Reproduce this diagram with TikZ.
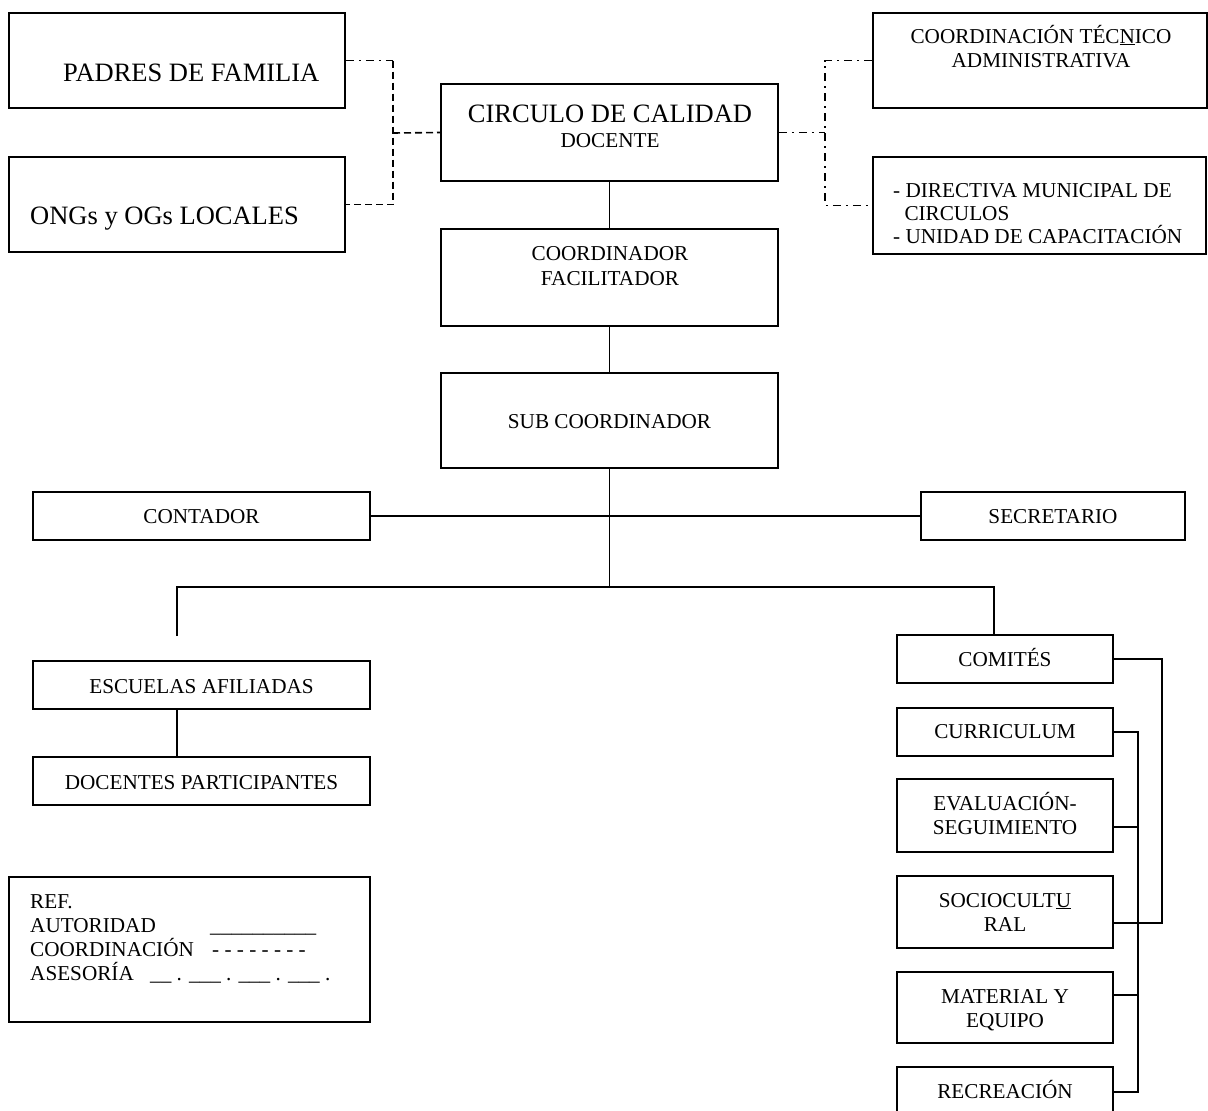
\documentclass[tikz,border=0pt]{standalone}
\usepackage{fontspec}
\setmainfont{Liberation Serif}
\newcommand\bigf{\fontsize{26.5}{30}\selectfont}
\newcommand\smf{\fontsize{21.2}{24}\selectfont}
\begin{document}
\begin{tikzpicture}[x=1pt,y=-1pt,
  box/.style={draw,line width=1.6pt,rectangle,inner sep=0pt},
  txt/.style={inner sep=0pt,anchor=base,font=\smf},
  txtl/.style={inner sep=0pt,anchor=base west,font=\smf},
  conn/.style={line width=1.6pt},
  dsh/.style={line width=1.6pt,dash pattern=on 7pt off 4pt},
  ddot/.style={line width=1.6pt,dash pattern=on 8pt off 5pt on 2pt off 5pt}]
\useasboundingbox (0,0) rectangle (1208,1111);
% boxes
\node[box,minimum width=336pt,minimum height=95pt] (padres) at (177,60.5) {};
\node[box,minimum width=336pt,minimum height=95pt] (ongs) at (177,204.5) {};
\node[box,minimum width=337pt,minimum height=97pt] (circ) at (609.5,132.5) {};
\node[box,minimum width=334pt,minimum height=95pt] (ctec) at (1040,60.5) {};
\node[box,minimum width=333pt,minimum height=97pt] (dir) at (1039.5,205.5) {};
\node[box,minimum width=337pt,minimum height=97pt] (cfac) at (609.5,277.5) {};
\node[box,minimum width=337pt,minimum height=95pt] (sub) at (609.5,420.5) {};
\node[box,minimum width=337pt,minimum height=48pt] (cont) at (201.5,516) {};
\node[box,minimum width=264pt,minimum height=48pt] (secr) at (1053,516) {};
\node[box,minimum width=337pt,minimum height=48pt] (esc) at (201.5,685) {};
\node[box,minimum width=337pt,minimum height=48pt] (doc) at (201.5,781) {};
\node[box,minimum width=361pt,minimum height=145pt] (leg) at (189.5,949.5) {};
\node[box,minimum width=216pt,minimum height=48pt] (com) at (1005,659) {};
\node[box,minimum width=216pt,minimum height=48pt] (cur) at (1005,732) {};
\node[box,minimum width=216pt,minimum height=73pt] (eva) at (1005,815.5) {};
\node[box,minimum width=216pt,minimum height=72pt] (soc) at (1005,912) {};
\node[box,minimum width=216pt,minimum height=71pt] (mat) at (1005,1007.5) {};
\node[box,minimum width=216pt,minimum height=72pt] (rec) at (1005,1103) {};
% texts
\node[txtl,font=\bigf] (t-padres) at (63,81) {PADRES DE FAMILIA};
\node[txtl,font=\bigf] (t-ongs) at (30,224) {ONGs y OGs LOCALES};
\node[txt,font=\bigf] (t-circ1) at (610,122) {CIRCULO DE CALIDAD};
\node[txt] (t-circ2) at (610,147) {DOCENTE};
\node[txt] (t-ctec1) at (1041,43) {COORDINACIÓN TÉC\underline{N}ICO};
\node[txt] (t-ctec2) at (1041,67) {ADMINISTRATIVA};
\node[txtl] (t-dir1) at (893,197) {- DIRECTIVA MUNICIPAL DE};
\node[txtl] (t-dir2) at (899,220) {\ CIRCULOS};
\node[txtl] (t-dir3) at (893,243) {- UNIDAD DE CAPACITACIÓN};
\node[txt] (t-cfac1) at (610,260) {COORDINADOR};
\node[txt] (t-cfac2) at (610,285) {FACILITADOR};
\node[txt] (t-sub) at (609.5,428) {SUB COORDINADOR};
\node[txt] (t-cont) at (201.5,523) {CONTADOR};
\node[txt] (t-secr) at (1053,523) {SECRETARIO};
\node[txt] (t-esc) at (201.5,693) {ESCUELAS AFILIADAS};
\node[txt] (t-doc) at (201.5,789) {DOCENTES PARTICIPANTES};
\node[txt] (t-com) at (1005,666) {COMITÉS};
\node[txt] (t-cur) at (1005,738) {CURRICULUM};
\node[txt] (t-eva1) at (1005,810) {EVALUACIÓN-};
\node[txt] (t-eva2) at (1005,834) {SEGUIMIENTO};
\node[txt] (t-soc1) at (1005,907) {SOCIOCULT\underline{U}};
\node[txt] (t-soc2) at (1005,931) {RAL};
\node[txt] (t-mat1) at (1005,1003) {MATERIAL Y};
\node[txt] (t-mat2) at (1005,1027) {EQUIPO};
\node[txt] (t-rec) at (1005,1098) {RECREACIÓN};
% legend
\node[txtl] (l-ref) at (30,908) {REF.};
\node[txtl] (l-aut) at (30,932) {AUTORIDAD};
\node[txtl] (l-autl) at (210,932) {\_\_\_\_\_\_\_\_\_\_};
\node[txtl] (l-coo) at (30,956) {COORDINACIÓN};
\node[txtl] (l-cool) at (212,956) {- - - - - - - -};
\node[txtl] (l-ase) at (30,980) {ASESORÍA};
\node[txtl] (l-asel) at (150,980) {\_\_ . \_\_\_ . \_\_\_ . \_\_\_ .};
% authority connectors
\draw[conn] (circ.south) -- (cfac.north);
\draw[conn] (cfac.south) -- (sub.north);
\coordinate (j1) at (609.5,587);
\coordinate (jl) at (177,587);
\coordinate (jr) at (994,587);
\coordinate (jle) at (177,636);
\draw[conn] (sub.south) -- (j1);
\draw[conn] (cont.east) -- (secr.west);
\draw[conn] (jle) -- (jl) -- (jr) -- (jr |- com.north);
\draw[conn] (esc.south -| jl) -- (doc.north -| jl);
\draw[conn] (com.east) -| ([xshift=48pt,yshift=-11pt]soc.east) -- ([yshift=-11pt]soc.east);
\draw[conn] (cur.east) -| ([xshift=24pt,yshift=11pt]rec.east) -- ([yshift=11pt]rec.east);
\draw[conn] ([yshift=-11.5pt]eva.east) -- ++(24,0);
\draw[conn] ([yshift=12.5pt]mat.east) -- ++(24,0);
% coordination (dashed)
\coordinate (lj) at (393,133);
\draw[ddot] (padres.east) -- (padres.east -| lj);
\draw[dsh] (padres.east -| lj) -- (ongs.east -| lj) -- (ongs.east);
\draw[dsh] (lj) -- (circ.west);
% advisory (dash-dot)
\coordinate (rj) at (825,133);
\draw[ddot] (circ.east) -- (circ.east -| rj);
\draw[ddot] (ctec.west) -- (ctec.west -| rj) -- (dir.west -| rj) -- (dir.west);
\end{tikzpicture}
\end{document}
